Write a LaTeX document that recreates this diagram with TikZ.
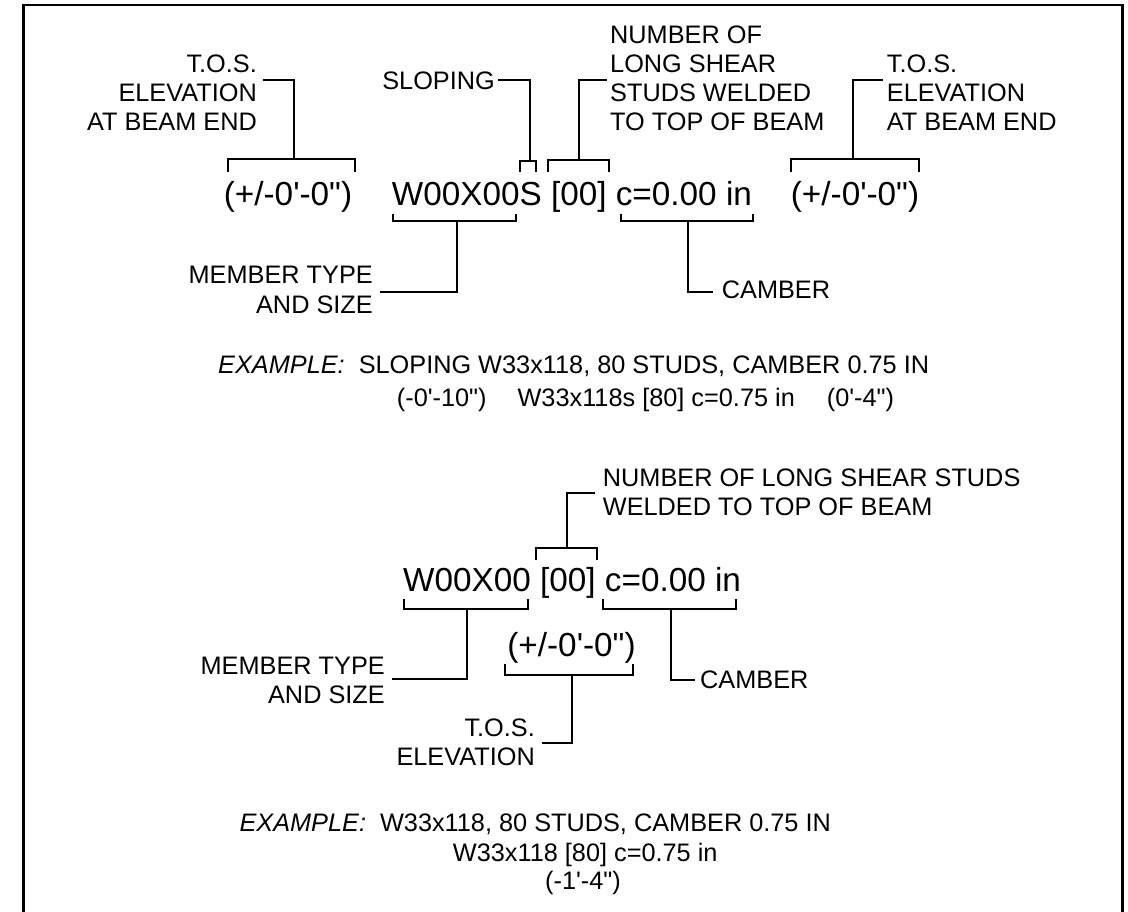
\documentclass[tikz,border=0pt]{standalone}
\usepackage{fontspec}
\setmainfont{Liberation Sans}[Ligatures=TeXOff]
\begin{document}
\begin{tikzpicture}[x=1pt,y=-1pt,
  sm/.style={font=\fontsize{25.3}{29}\selectfont, inner sep=0pt},
  bg/.style={font=\fontsize{33.3}{40}\selectfont, inner sep=0pt},
  lead/.style={line width=1.9pt},
  brk/.style={line width=1.9pt},
  frame/.style={line width=2.8pt}]
\useasboundingbox (0,0) rectangle (1128,912);
\draw[frame] (23.7,5) rectangle (1122.5,960);

% ---------- top diagram ----------
\node[bg, anchor=base] (t1) at (288,206) {(+/-0'-0")};
\node[bg, anchor=base west] (m1) at (391.7,206) {W00X00S [00] c=0.00 in};
\node[bg, anchor=base] (t2) at (855,206) {(+/-0'-0")};

% multi-line nodes: base anchor = baseline of the last line
\node[sm, align=right, anchor=base east] (l1) at (257,131) {T.O.S.\\ELEVATION\\AT BEAM END};
\node[sm, anchor=base east] (slp) at (495,89.5) {SLOPING};
\node[sm, align=left, anchor=base west] (num1) at (610,131) {NUMBER OF\\LONG SHEAR\\STUDS WELDED\\TO TOP OF BEAM};
\node[sm, align=left, anchor=base west] (l2) at (886.7,131) {T.O.S.\\ELEVATION\\AT BEAM END};
\node[sm, align=right, anchor=base east] (mem1) at (373,313) {MEMBER TYPE\\AND SIZE};
\node[sm, anchor=base west] (cam1) at (721.7,298.3) {CAMBER};

% brackets
\draw[brk] (228,172) -- (228,159) -- (355,159) -- (355,172);
\draw[brk] (393.3,214) -- (393.3,220.7) -- (516,220.7) -- (516,214);
\draw[brk] (520,171.7) -- (520,161) -- (535.7,161) -- (535.7,171.7);
\draw[brk] (548.3,171.7) -- (548.3,160.3) -- (609,160.3) -- (609,171.7);
\draw[brk] (620.7,214) -- (620.7,220.7) -- (753.3,220.7) -- (753.3,214);
\draw[brk] (791,171.7) -- (791,159.3) -- (919,159.3) -- (919,171.7);

\coordinate (b1) at (294,159);     \coordinate (e1) at (263,80);
\coordinate (b2) at (456.7,220.7); \coordinate (e2) at (380,291.7);
\coordinate (b3) at (530,161);     \coordinate (e3) at (498.3,80);
\coordinate (b4) at (579,160.3);   \coordinate (e4) at (606.7,80);
\coordinate (b5) at (688.3,220.7); \coordinate (e5) at (713,291.7);
\coordinate (b6) at (852.7,159.3); \coordinate (e6) at (883.3,80);
\draw[lead] (b1) |- (e1);
\draw[lead] (b2) |- (e2);
\draw[lead] (b3) |- (e3);
\draw[lead] (b4) |- (e4);
\draw[lead] (b5) |- (e5);
\draw[lead] (b6) |- (e6);

% example 1
\node[sm, anchor=base west] (ex1a) at (218,373.3) {\textit{EXAMPLE:}\hspace{14pt}SLOPING W33x118, 80 STUDS, CAMBER 0.75 IN};
\node[sm, anchor=base west] (ex1b) at (396.7,406.7) {(-0'-10")\hspace{31pt}W33x118s [80] c=0.75 in\hspace{32pt}(0'-4")};

% ---------- bottom diagram ----------
\node[bg, anchor=base west] (m2) at (403,591) {W00X00 [00] c=0.00 in};
\node[bg, anchor=base] (t3) at (571.5,656.5) {(+/-0'-0")};

\node[sm, align=left, anchor=base west] (num2) at (602.7,515) {NUMBER OF LONG SHEAR STUDS\\WELDED TO TOP OF BEAM};
\node[sm, align=right, anchor=base east] (mem2) at (385,703.3) {MEMBER TYPE\\AND SIZE};
\node[sm, anchor=base west] (cam2) at (700,688.3) {CAMBER};
\node[sm, align=right, anchor=base east] (tos3) at (535,765) {T.O.S.\\ELEVATION};

\draw[brk] (536,560) -- (536,548.3) -- (597.3,548.3) -- (597.3,560);
\draw[brk] (404.3,599) -- (404.3,609.3) -- (528.3,609.3) -- (528.3,599);
\draw[brk] (602.7,599) -- (602.7,609.3) -- (735.7,609.3) -- (735.7,599);
\draw[brk] (505,664) -- (505,675) -- (633.3,675) -- (633.3,664);

\coordinate (b7) at (566.7,548.3);  \coordinate (e7) at (595,493.3);
\coordinate (b8) at (467.3,609.3);  \coordinate (e8) at (392.3,679.3);
\coordinate (b9) at (671,609.3);    \coordinate (e9) at (695,680);
\coordinate (b10) at (571.7,675);   \coordinate (e10) at (541.7,742.7);
\draw[lead] (b7) |- (e7);
\draw[lead] (b8) |- (e8);
\draw[lead] (b9) |- (e9);
\draw[lead] (b10) |- (e10);

% example 2
\node[sm, anchor=base west] (ex2a) at (239.3,831.7) {\textit{EXAMPLE:}\hspace{14pt}W33x118, 80 STUDS, CAMBER 0.75 IN};
\node[sm, anchor=base west] (ex2b) at (452.7,861) {W33x118 [80] c=0.75 in};
\node[sm, anchor=base west] (ex2c) at (545,889) {(-1'-4")};
\end{tikzpicture}
\end{document}
